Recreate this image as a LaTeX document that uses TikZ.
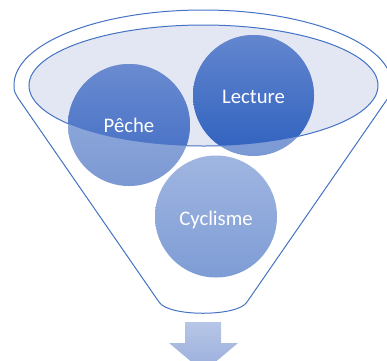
\documentclass[tikz,border=0pt]{standalone}
\usepackage{fontspec}
\setmainfont{Carlito}
\definecolor{funnelblue}{HTML}{4472C4}
\definecolor{ellfill}{HTML}{E3E7F3}
\definecolor{pdTop}{HTML}{6A8BD0}
\definecolor{pdBot}{HTML}{3D69C3}
\definecolor{plTop}{HTML}{9AB2DE}
\definecolor{plBot}{HTML}{7B98D3}
\definecolor{ldTop}{HTML}{6386CE}
\definecolor{ldBot}{HTML}{2F61BF}
\definecolor{llTop}{HTML}{8FA9DB}
\definecolor{llBot}{HTML}{7B99D4}
\definecolor{cyTop}{HTML}{A0B6E1}
\definecolor{cyBot}{HTML}{7E9CD5}
\definecolor{arTop}{HTML}{B7C6E7}
\definecolor{arBot}{HTML}{99ADDB}
\tikzset{
  outline/.style={draw=funnelblue, line width=1pt},
  lbl/.style={text=white, font=\fontsize{20.7}{24}\selectfont, anchor=base, inner sep=0pt}
}
\begin{document}
\begin{tikzpicture}[x=1pt,y=-1pt]
\useasboundingbox (0,0) rectangle (387,360);
\clip (0,0) rectangle (387,360);
% funnel outline
\draw[outline] (14,85) arc[start angle=180, end angle=360, x radius=189, y radius=75]
  .. controls (392,91) .. (388,98) -- (247,302)
  .. controls (238,317) and (168,317) .. (159,302)
  -- (18,98) .. controls (14,91) .. (14,85) -- cycle;
% inner ellipse
\path[fill=ellfill] (203.5,85.5) ellipse[x radius=174.5, y radius=60.5];
\draw[outline] (203.5,85.5) ellipse[x radius=174.5, y radius=60.5];
% circles (light)
\shade[top color=plTop, bottom color=plBot] (129,125) circle[radius=61];
\shade[top color=llTop, bottom color=llBot] (253.5,95.5) circle[radius=60.5];
\shade[top color=cyTop, bottom color=cyBot] (216,216.5) circle[radius=61];
% darker parts inside the ellipse
\begin{scope}
  \clip (203.5,85.5) ellipse[x radius=174.5, y radius=60.5];
  \shade[top color=pdTop, bottom color=pdBot] (129,125) circle[radius=61];
  \shade[top color=ldTop, bottom color=ldBot] (253.5,95.5) circle[radius=60.5];
\end{scope}
% labels
\node[lbl] (peche) at (129,132) {Pêche};
\node[lbl] (lecture) at (253.5,103) {Lecture};
\node[lbl] (cyclisme) at (216,225) {Cyclisme};
% arrow
\shade[top color=arTop, bottom color=arBot]
  (185,322) -- (221,322) -- (221,343) -- (238,343) -- (203.5,372)
  -- (169,343) -- (185,343) -- cycle;
\end{tikzpicture}
\end{document}
